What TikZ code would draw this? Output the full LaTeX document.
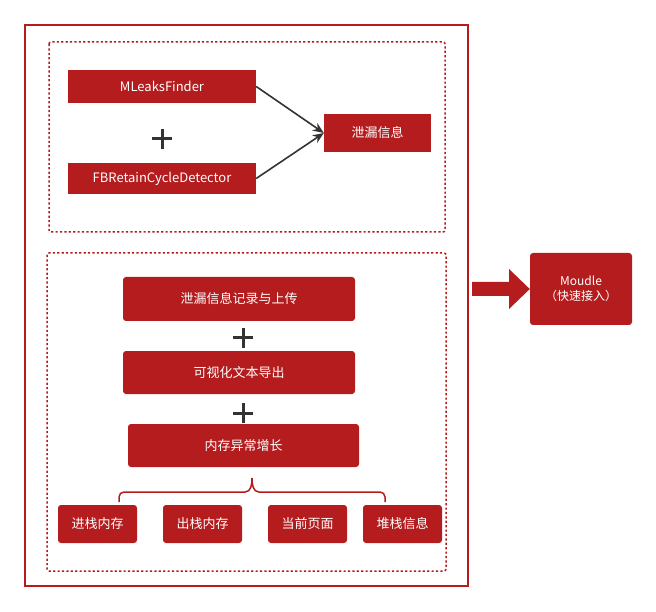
\documentclass[tikz,border=0pt]{standalone}
\usepackage{fontspec}
\setmainfont{Noto Sans CJK SC}
\usetikzlibrary{arrows.meta,decorations.pathreplacing}
\definecolor{cred}{HTML}{B41C1E}
\definecolor{cdark}{HTML}{333333}
\begin{document}
\begin{tikzpicture}[x=1pt,y=-1pt,
  redbox/.style={fill=cred,draw=none,text=white,font=\fontsize{13}{15}\selectfont,inner sep=0pt},
  rbox/.style={redbox,rounded corners=3pt},
  dashbox/.style={draw=cred,line width=1.5pt,dash pattern=on 2.2pt off 2.2pt,rounded corners=2pt},
  conn/.style={draw=cdark,line width=1.6pt,-{Stealth[length=11pt,width=9pt]}},
  plusmark/.style={draw=cdark,line width=3pt}
]
\useasboundingbox (0,0) rectangle (656,612);
% outer frame
\draw[cred,line width=2pt] (25,25) rectangle (468,586);
% dashed frames
\draw[dashbox] (49,42) rectangle (445,232);
\draw[dashbox] (47,253) rectangle (446,571);
% top group
\node[redbox,minimum width=188pt,minimum height=33pt] (mlf) at (162,86.5) {MLeaksFinder};
\node[redbox,minimum width=188pt,minimum height=31pt] (fbr) at (162,178.5) {FBRetainCycleDetector};
\node[redbox,minimum width=107pt,minimum height=38pt] (leak) at (377.5,133) {泄漏信息};
\coordinate (p0) at (162,139);
\draw[plusmark] ([xshift=-10pt]p0) -- ([xshift=10pt]p0) ([yshift=-10pt]p0) -- ([yshift=10pt]p0);
\draw[conn] (mlf.east) -- (leak.west);
\draw[conn] (fbr.east) -- (leak.west);
% bottom group
\node[rbox,minimum width=232pt,minimum height=44pt] (rec) at (239,299) {泄漏信息记录与上传};
\node[rbox,minimum width=232pt,minimum height=43pt] (vis) at (239,372.5) {可视化文本导出};
\node[rbox,minimum width=231pt,minimum height=43pt] (mem) at (243.5,445.5) {内存异常增长};
\coordinate (p1) at (243,338);
\coordinate (p2) at (243,413);
\draw[plusmark] ([xshift=-10pt]p1) -- ([xshift=10pt]p1) ([yshift=-10pt]p1) -- ([yshift=10pt]p1);
\draw[plusmark] ([xshift=-10pt]p2) -- ([xshift=10pt]p2) ([yshift=-10pt]p2) -- ([yshift=10pt]p2);
\node[rbox,minimum width=79pt,minimum height=38pt] (b1) at (97.5,524) {进栈内存};
\node[rbox,minimum width=79pt,minimum height=38pt] (b2) at (202.5,524) {出栈内存};
\node[rbox,minimum width=79pt,minimum height=38pt] (b3) at (307.5,524) {当前页面};
\node[rbox,minimum width=79pt,minimum height=38pt] (b4) at (402.5,524) {堆栈信息};
% brace
\coordinate (bl) at (119,502);
\coordinate (br) at (385,502);
\coordinate (bt) at (252,478);
\draw[cred,line width=1.5pt] (bl) -- (119,497) to[out=90,in=180] (124,492) -- (245,492)
  to[out=0,in=-90] (bt) to[out=-90,in=180] (259,492) -- (380,492) to[out=0,in=90] (385,497) -- (br);
% big arrow
\node[rbox,minimum width=102pt,minimum height=72pt,align=center,font=\fontsize{12}{15}\selectfont] (mod) at (581,289) {Moudle\\（快速接入）};
\fill[cred] (472,282) -- (509,282) -- (509,269) -- (mod.west) -- (509,309) -- (509,296) -- (472,296) -- cycle;
\end{tikzpicture}
\end{document}
